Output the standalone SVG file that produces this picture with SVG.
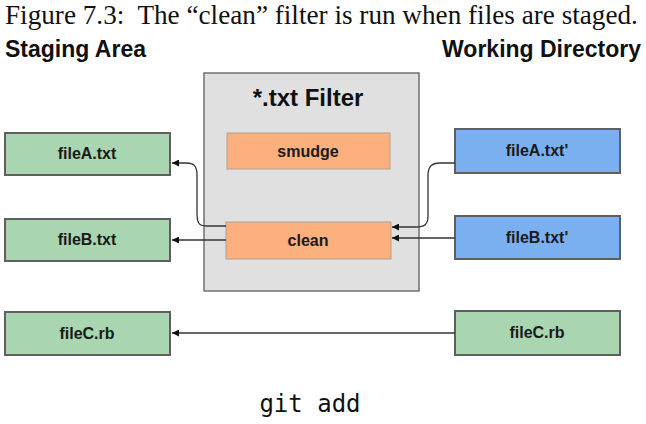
<svg xmlns="http://www.w3.org/2000/svg" width="646" height="424" viewBox="0 0 646 424">
<style>
.cap{font-family:"Liberation Serif",serif;font-size:27.2px;fill:#111}
.hd{font-family:"Liberation Sans",Arial,sans-serif;font-weight:bold;font-size:23px;fill:#111}
.lbl{font-family:"Liberation Sans",Arial,sans-serif;font-weight:bold;font-size:16px;fill:#1a1a1a;text-anchor:middle}
.green{fill:#a9d5b1;stroke:#5f5f5f;stroke-width:2}
.blue{fill:#7aaff0;stroke:#5f5f5f;stroke-width:2}
.orange{fill:#fbb07e;stroke:#b0a090;stroke-width:1}
.filter{fill:#e0e0e0;stroke:#707070;stroke-width:1.5}
.conn{fill:none;stroke:#333;stroke-width:1.3}
.git{font-family:"DejaVu Sans Mono",monospace;font-size:24px;fill:#111;text-anchor:middle}
</style>
<defs>
<marker id="ah" viewBox="0 0 10 10" refX="10" refY="5" markerWidth="9" markerHeight="7" markerUnits="userSpaceOnUse" orient="auto">
<path d="M0,0 L10,5 L0,10 z" fill="#111"/>
</marker>
</defs>
<text class="cap" x="5" y="24" xml:space="preserve">Figure 7.3:  The “clean” filter is run when files are staged.</text>
<text class="hd" x="5" y="57">Staging Area</text>
<text class="hd" x="641" y="57" text-anchor="end">Working Directory</text>

<g id="filter">
<rect class="filter" x="204" y="73" width="215" height="218"/>
<text x="308" y="106" font-family="Liberation Sans, Arial, sans-serif" font-weight="bold" font-size="24" fill="#111" text-anchor="middle">*.txt Filter</text>
</g>
<g id="smudge">
<rect class="orange" x="227" y="133" width="163" height="36"/>
<text class="lbl" x="308" y="157">smudge</text>
</g>
<g id="clean">
<rect class="orange" x="226" y="222" width="165" height="37"/>
<text class="lbl" x="308" y="246">clean</text>
</g>

<g id="stageA">
<rect class="green" x="5" y="133" width="165" height="42"/>
<text class="lbl" x="87" y="159">fileA.txt</text>
</g>
<g id="stageB">
<rect class="green" x="5" y="219" width="165" height="42"/>
<text class="lbl" x="87" y="245">fileB.txt</text>
</g>
<g id="stageC">
<rect class="green" x="5" y="312" width="165" height="43"/>
<text class="lbl" x="87" y="339">fileC.rb</text>
</g>
<g id="workA">
<rect class="blue" x="455" y="129" width="165" height="44"/>
<text class="lbl" x="537" y="156">fileA.txt'</text>
</g>
<g id="workB">
<rect class="blue" x="455" y="216" width="165" height="43"/>
<text class="lbl" x="537" y="243">fileB.txt'</text>
</g>
<g id="workC">
<rect class="green" x="455" y="311" width="165" height="44"/>
<text class="lbl" x="537" y="338">fileC.rb</text>
</g>

<g id="connectors">
<path class="conn" marker-end="url(#ah)" d="M226,226 L206,226 C198,226 197,222 197,212 L197,175 C197,166 194,163 186,163 L172,163"/>
<path class="conn" marker-end="url(#ah)" d="M226,240 L172,240"/>
<path class="conn" marker-end="url(#ah)" d="M455,163 L440,163 C431,163 428,167 428,176 L428,216 C428,224 425,227 416,227 L392,227"/>
<path class="conn" marker-end="url(#ah)" d="M455,238 L392,238"/>
<path class="conn" marker-end="url(#ah)" d="M455,333 L172,333"/>
</g>

<text class="git" x="310" y="412">git add</text>
</svg>
